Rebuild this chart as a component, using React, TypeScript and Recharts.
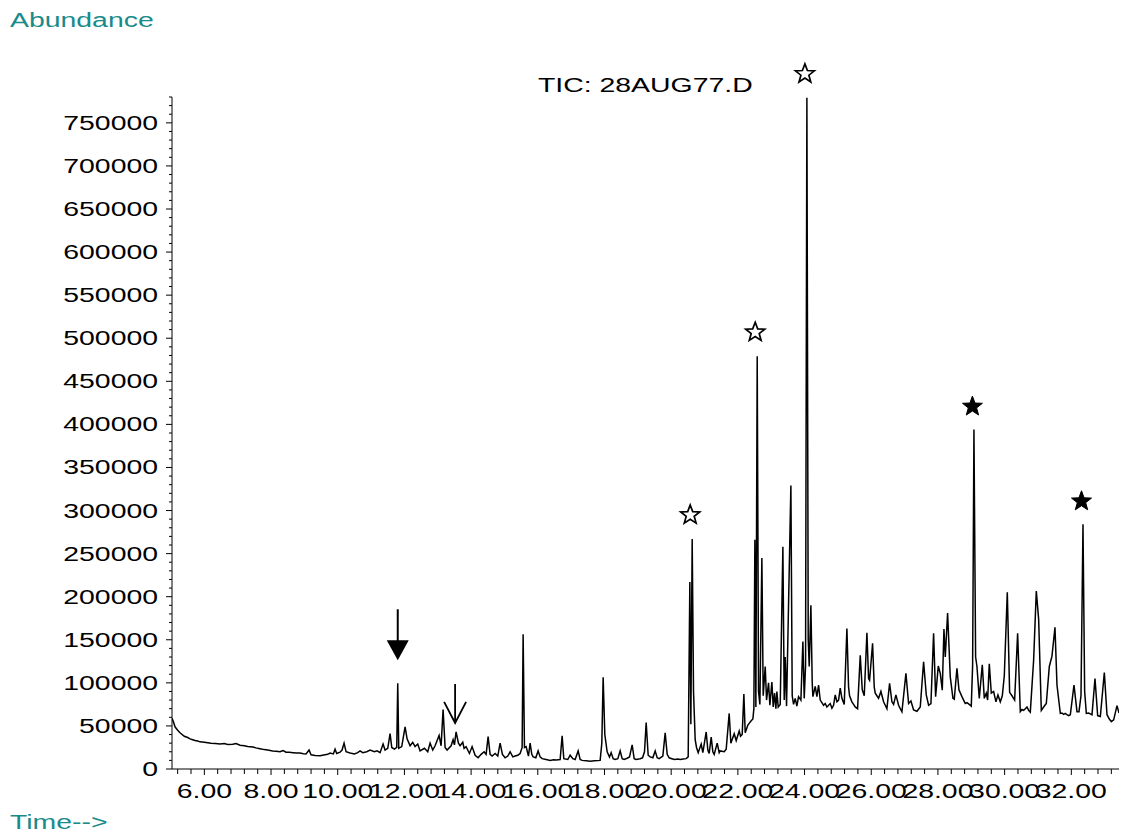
import React from 'react';
import { LineChart, Line, XAxis, YAxis, ReferenceDot } from 'recharts';

// [time (min), abundance (thousands)]
const EARLY_TRACE: [number, number][] = [
  [5.03, 59], [5.07, 55], [5.12, 49], [5.2, 45], [5.27, 42], [5.4, 38], [5.5, 36.5], [5.57, 35], [5.65, 34],
  [5.72, 33], [5.8, 32.5], [5.87, 31.5], [6.0, 31], [6.1, 30.5], [6.2, 30], [6.33, 29.5], [6.47, 29],
  [6.6, 29.5], [6.7, 28.5], [6.85, 28.8], [6.95, 29.5], [7.07, 27.5], [7.2, 27], [7.3, 26], [7.45, 25.5],
  [7.55, 24.5], [7.67, 23.5], [7.8, 22.5], [7.9, 22], [8.05, 21], [8.15, 20.5], [8.27, 20], [8.36, 21.5],
  [8.45, 19.5], [8.55, 19.3], [8.66, 19], [8.77, 18.6], [8.87, 18.5], [8.97, 17.8], [9.05, 17.5], [9.14, 22],
  [9.2, 16.5], [9.32, 15.8], [9.47, 15.5], [9.58, 16.3], [9.7, 17], [9.77, 18.5], [9.87, 17.5], [9.92, 23],
  [9.97, 18], [10.07, 19.5], [10.13, 22], [10.19, 30], [10.25, 20], [10.37, 18.5], [10.5, 17.5], [10.6, 19],
  [10.67, 21], [10.75, 19], [10.87, 20], [10.97, 22], [11.1, 20], [11.18, 21], [11.27, 19], [11.36, 29],
  [11.42, 22], [11.5, 24], [11.57, 41], [11.62, 25], [11.7, 23], [11.77, 25], [11.8, 99.5], [11.83, 24],
  [11.92, 26], [12.02, 49], [12.08, 35], [12.17, 27], [12.25, 31], [12.32, 26], [12.4, 29], [12.47, 21],
  [12.6, 24], [12.7, 20], [12.77, 30], [12.85, 22], [12.92, 27], [13.04, 39], [13.1, 27], [13.16, 69],
  [13.22, 25], [13.28, 22], [13.4, 27], [13.46, 34], [13.5, 28], [13.55, 43], [13.62, 30], [13.67, 27],
  [13.75, 31], [13.79, 24], [13.85, 26], [13.95, 18], [14.03, 26], [14.12, 16], [14.21, 13], [14.3, 17],
  [14.39, 20], [14.45, 17], [14.51, 37.5], [14.57, 17], [14.63, 15], [14.72, 18], [14.8, 15], [14.87, 30],
  [14.94, 17], [15.02, 13], [15.1, 15], [15.17, 20], [15.25, 14], [15.32, 15], [15.4, 16], [15.47, 18],
  [15.53, 25], [15.56, 156.5], [15.6, 25], [15.65, 26], [15.72, 15], [15.77, 30], [15.82, 17], [15.86, 14],
  [15.94, 13], [16.01, 21], [16.07, 14], [16.13, 12], [16.25, 11], [16.37, 10], [16.47, 10.8], [16.55, 10.5],
  [16.67, 11], [16.73, 38.5], [16.78, 12], [16.9, 11], [16.97, 16], [17.05, 12], [17.12, 11], [17.21, 21],
  [17.27, 11], [17.33, 10], [17.45, 9.5], [17.57, 9], [17.7, 9.6], [17.87, 10], [17.92, 30], [17.96, 106.5],
  [18.01, 40], [18.08, 20], [18.15, 14], [18.2, 19], [18.26, 12], [18.32, 11], [18.4, 12], [18.47, 21],
  [18.53, 12], [18.59, 11], [18.68, 12.5], [18.75, 14], [18.83, 28], [18.89, 12], [18.95, 11], [19.07, 12],
  [19.14, 13], [19.2, 20], [19.25, 54], [19.31, 16], [19.37, 14], [19.45, 13], [19.52, 21], [19.58, 13],
  [19.64, 12], [19.75, 15], [19.82, 42], [19.88, 17], [19.94, 13], [20.02, 12], [20.1, 11], [20.2, 11.5],
  [20.27, 11], [20.36, 11.5], [20.45, 12],
];

const MID_TRACE: [number, number][] = [
  [20.51, 14], [20.56, 217], [20.59, 52], [20.63, 267], [20.67, 90], [20.72, 34], [20.76, 25], [20.81, 19],
  [20.9, 29], [20.95, 19], [21.05, 43], [21.1, 22], [21.14, 18], [21.2, 37], [21.25, 20], [21.29, 17],
  [21.38, 30], [21.44, 19], [21.47, 21], [21.59, 20], [21.65, 23], [21.74, 64.5], [21.79, 30], [21.89, 41],
  [21.95, 33], [22.04, 44], [22.08, 38], [22.13, 40], [22.18, 87], [22.22, 42], [22.3, 51], [22.34, 53],
  [22.4, 56], [22.45, 58], [22.48, 70], [22.51, 266], [22.54, 72], [22.58, 479], [22.62, 90], [22.66, 75],
  [22.72, 245], [22.76, 85], [22.82, 119], [22.86, 80], [22.92, 100], [22.96, 74], [23.02, 101], [23.06, 72],
  [23.1, 88], [23.14, 70], [23.17, 90], [23.21, 72], [23.27, 75], [23.35, 258], [23.39, 80], [23.42, 130],
  [23.46, 73], [23.59, 329], [23.63, 85], [23.67, 75], [23.72, 82], [23.77, 73], [23.82, 84], [23.89, 80],
  [23.95, 148], [23.99, 82], [24.03, 120], [24.07, 779], [24.11, 150], [24.14, 119], [24.19, 190], [24.23, 100],
  [24.25, 84], [24.32, 96], [24.37, 84], [24.42, 97.5], [24.47, 80], [24.52, 77], [24.57, 74], [24.62, 76],
  [24.67, 72], [24.72, 74], [24.77, 76], [24.82, 70.5], [24.87, 74], [24.92, 86], [24.97, 78], [25.02, 80],
  [25.07, 94], [25.12, 82], [25.19, 75], [25.27, 163], [25.32, 95], [25.35, 85], [25.42, 78], [25.47, 75],
  [25.52, 72], [25.59, 70], [25.67, 132], [25.73, 92], [25.79, 85], [25.87, 158], [25.92, 105], [25.95, 103],
  [26.04, 146], [26.09, 95], [26.12, 88], [26.17, 85], [26.22, 82], [26.29, 90], [26.37, 78], [26.42, 74],
  [26.47, 70], [26.55, 99.5], [26.62, 78], [26.67, 75], [26.74, 86], [26.82, 74], [26.87, 70], [26.92, 66.5],
];

const LATE_TRACE: [number, number][] = [
  [27.04, 111], [27.12, 76], [27.19, 79], [27.27, 68.5], [27.37, 67], [27.47, 72], [27.57, 124.5], [27.65, 86],
  [27.72, 74], [27.79, 76], [27.87, 157.5], [27.93, 84], [28.01, 119.5], [28.07, 111], [28.13, 91.5], [28.18, 162.5],
  [28.22, 130], [28.29, 181], [28.37, 107], [28.45, 82], [28.49, 81], [28.57, 117], [28.63, 92], [28.72, 84],
  [28.77, 80], [28.82, 76], [28.87, 77], [28.92, 75.5], [29.0, 73], [29.04, 120], [29.08, 394], [29.13, 130],
  [29.17, 119], [29.24, 82], [29.33, 121], [29.39, 82], [29.45, 88], [29.49, 80], [29.54, 122], [29.6, 88],
  [29.67, 90], [29.74, 78], [29.8, 86], [29.87, 78], [29.93, 85], [29.99, 108], [30.08, 205], [30.15, 89],
  [30.22, 85], [30.3, 80], [30.39, 157.5], [30.47, 66.5], [30.52, 69], [30.57, 68], [30.62, 70], [30.67, 72],
  [30.72, 68], [30.77, 66], [30.87, 126.5], [30.95, 206.5], [31.02, 174], [31.1, 68], [31.17, 72], [31.25, 76],
  [31.34, 119], [31.42, 131], [31.51, 164.5], [31.57, 97.5], [31.67, 64.5], [31.72, 65], [31.77, 63.5],
  [31.82, 64.5], [31.87, 63], [31.92, 62], [31.97, 63], [32.08, 97.5], [32.17, 66.5], [32.23, 66.5], [32.29, 85],
  [32.35, 284], [32.4, 90], [32.45, 64.5], [32.52, 65], [32.57, 64], [32.62, 63], [32.71, 105], [32.79, 62],
  [32.87, 61], [32.99, 112], [33.07, 63], [33.14, 58], [33.2, 55], [33.27, 57], [33.37, 73.5], [33.43, 65],
];

// marked peaks: [time, abundance (thousands)]
const OPEN_STARS: [number, number][] = [[20.63, 267], [22.58, 479], [24.07, 779]];
const FILLED_STARS: [number, number][] = [[29.08, 394], [32.35, 284]];
const FILLED_ARROWS: [number, number][] = [[11.8, 99.5]];
const OPEN_ARROWS: [number, number][] = [[13.55, 43]];

const X_DOMAIN: [number, number] = [5.03, 33.43];
const Y_MAX = 780000;

const data = [...EARLY_TRACE, ...MID_TRACE, ...LATE_TRACE].map(([t, a]) => ({ t, a: a * 1000 }));

const xTicks: number[] = [];
for (let i = 0; i <= 70; i++) xTicks.push(Math.round((5.2 + 0.4 * i) * 10) / 10);
const yTicks: number[] = [];
for (let v = 0; v <= Y_MAX; v += 10000) yTicks.push(v);

const FONT = '"Liberation Sans", Arial, Helvetica, sans-serif';
const STRETCH = 1.42;
const TEAL = '#1a8b8b';

const XTick = (props: any) => {
  const { x, y, payload } = props;
  const v = payload.value;
  const major = Math.abs(v / 2 - Math.round(v / 2)) < 1e-6;
  return (
    <g>
      <line x1={x} x2={x} y1={y} y2={y + (major ? 6 : 5)} stroke="#000" />
      {major && (
        <text
          transform={`translate(${x},${y + 29}) scale(${STRETCH},1)`}
          textAnchor="middle"
          fontFamily={FONT}
          fontSize={20}
          fill="#000"
        >
          {v.toFixed(2)}
        </text>
      )}
    </g>
  );
};

const YTick = (props: any) => {
  const { x, y, payload } = props;
  const v = payload.value;
  const major = v % 50000 === 0;
  return (
    <g>
      <line x1={x} x2={x - (major ? 6 : 3)} y1={y} y2={y} stroke="#000" />
      {major && (
        <text
          transform={`translate(${x - 14},${y + 7}) scale(${STRETCH},1)`}
          textAnchor="end"
          fontFamily={FONT}
          fontSize={20}
          fill="#000"
        >
          {v}
        </text>
      )}
    </g>
  );
};

function starPoints(cx: number, cy: number, R: number, r: number) {
  const pts: string[] = [];
  for (let i = 0; i < 10; i++) {
    const ang = -Math.PI / 2 + (i * Math.PI) / 5;
    const rad = i % 2 === 0 ? R : r;
    pts.push(`${(cx + rad * Math.cos(ang)).toFixed(1)},${(cy + rad * Math.sin(ang)).toFixed(1)}`);
  }
  return pts.join(' ');
}

const OpenStar = (p: any) => (
  <polygon points={starPoints(p.cx - 2, p.cy - 24, 10, 4.2)} fill="#fff" stroke="#000" strokeWidth={1.7} />
);
const FilledStar = (p: any) => (
  <polygon points={starPoints(p.cx - 1.5, p.cy - 23, 10.5, 4.4)} fill="#000" stroke="#000" strokeWidth={1} />
);
const FilledArrow = (p: any) => (
  <g>
    <line x1={p.cx} x2={p.cx} y1={p.cy - 74} y2={p.cy - 42} stroke="#000" strokeWidth={2} />
    <polygon points={`${p.cx - 11},${p.cy - 43} ${p.cx + 11},${p.cy - 43} ${p.cx},${p.cy - 23}`} fill="#000" />
  </g>
);
const OpenArrow = (p: any) => (
  <g fill="none" stroke="#000" strokeWidth={1.8}>
    <line x1={p.cx - 1} x2={p.cx - 1} y1={p.cy - 48} y2={p.cy - 9} />
    <polyline points={`${p.cx - 12},${p.cy - 30} ${p.cx - 1},${p.cy - 9} ${p.cx + 10},${p.cy - 30}`} />
  </g>
);

export default function App() {
  const textStyle: React.CSSProperties = {
    position: 'absolute',
    fontFamily: FONT,
    fontSize: 20,
    lineHeight: '20px',
    whiteSpace: 'nowrap',
    transform: `scaleX(${STRETCH})`,
    transformOrigin: 'left top',
  };
  return (
    <div style={{ position: 'absolute', left: 0, top: 0, width: 1121, height: 833, background: '#fff' }}>
      <div style={{ ...textStyle, left: 10, top: 10, color: TEAL }}>Abundance</div>
      <div style={{ ...textStyle, left: 10, top: 812, color: TEAL }}>Time--&gt;</div>
      <div style={{ ...textStyle, left: 538, top: 75, color: '#000' }}>TIC: 28AUG77.D</div>
      <LineChart
        width={1121}
        height={833}
        data={data}
        margin={{ top: 97, right: 2, bottom: 24, left: 12 }}
        style={{ position: 'absolute', left: 0, top: 0 }}
      >
        <XAxis
          dataKey="t"
          type="number"
          domain={X_DOMAIN}
          allowDataOverflow
          ticks={xTicks}
          interval={0}
          height={40}
          tickSize={0}
          tickMargin={0}
          tickLine={false}
          tick={<XTick />}
          axisLine={{ stroke: '#000' }}
        />
        <YAxis
          type="number"
          domain={[0, Y_MAX]}
          allowDataOverflow
          ticks={yTicks}
          interval={0}
          width={160}
          tickSize={0}
          tickMargin={0}
          tickLine={false}
          tick={<YTick />}
          axisLine={{ stroke: '#000' }}
        />
        <Line
          type="linear"
          dataKey="a"
          stroke="#000"
          strokeWidth={1.5}
          dot={false}
          isAnimationActive={false}
        />
        {OPEN_STARS.map(([t, a]) => (
          <ReferenceDot key={`os${t}`} x={t} y={a * 1000} r={0} ifOverflow="visible" shape={OpenStar} />
        ))}
        {FILLED_STARS.map(([t, a]) => (
          <ReferenceDot key={`fs${t}`} x={t} y={a * 1000} r={0} ifOverflow="visible" shape={FilledStar} />
        ))}
        {FILLED_ARROWS.map(([t, a]) => (
          <ReferenceDot key={`fa${t}`} x={t} y={a * 1000} r={0} ifOverflow="visible" shape={FilledArrow} />
        ))}
        {OPEN_ARROWS.map(([t, a]) => (
          <ReferenceDot key={`oa${t}`} x={t} y={a * 1000} r={0} ifOverflow="visible" shape={OpenArrow} />
        ))}
      </LineChart>
    </div>
  );
}
